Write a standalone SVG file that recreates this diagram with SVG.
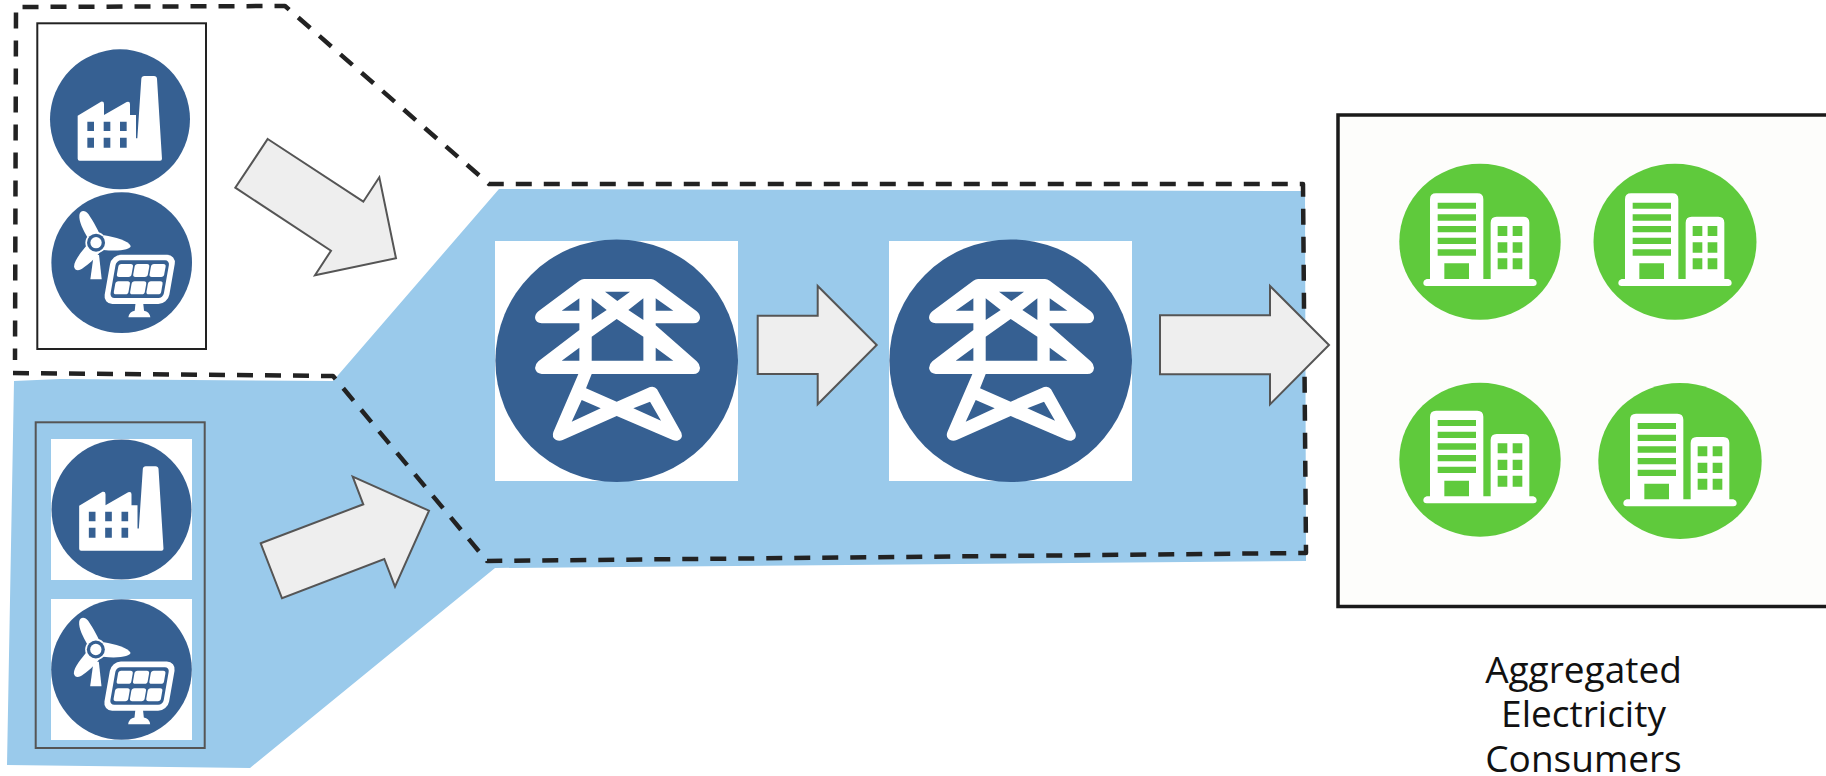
<svg xmlns="http://www.w3.org/2000/svg" xmlns:xlink="http://www.w3.org/1999/xlink" width="1826" height="776" viewBox="0 0 1826 776">
<style>
.arrow{fill:#eeeeee;stroke:#555555;stroke-width:2;stroke-linejoin:miter}
.w{fill:#ffffff}
.b{fill:#366092}
.g{fill:#5fca3c}
.label{font-family:"Open Sans",sans-serif;font-size:37px;fill:#111111;text-anchor:middle}
</style>
<defs>
<g id="factory" transform="scale(0.3333) translate(-360,-358)">
<circle class="b" cx="360" cy="358" r="210"/>
<path class="w" fill-rule="evenodd" d="M233,347 L303,305 Q312,303 312,312 L312,345 L380,306 Q390,303 390,312 L390,345 L408,345 L408,415 L412,415 L424,236 Q425,228 433,228 L462,228 Q470,228 471,236 L486,476 Q486,482 480,482 L239,482 Q233,482 233,476 Z M262,365 h20 v28 h-20 Z M311,365 h20 v28 h-20 Z M360,365 h20 v28 h-20 Z M262,413 h20 v30 h-20 Z M311,413 h20 v30 h-20 Z M360,413 h20 v30 h-20 Z"/>
</g>
<g id="renewable" transform="scale(0.3333) translate(-365,-788)">
<circle class="b" cx="365" cy="788" r="211"/>
<path class="w" d="M271,838 L305,838 L297,765 L281,765 Z"/>
<path class="w" d="M262,712 C250,690 236,665 238,645 C240,630 255,628 265,642 C280,665 298,695 305,718 Z"/>
<path class="w" d="M312,706 C345,712 385,722 392,738 C392,748 360,755 310,750 Z"/>
<path class="w" d="M265,730 C245,755 222,780 222,800 C225,815 240,812 250,803 C270,790 290,770 302,752 Z"/>
<circle class="w" cx="288" cy="728" r="32"/>
<circle class="b" cx="288" cy="728" r="27"/>
<circle class="w" cx="288" cy="728" r="17"/>
<path class="w" d="M407,905 L429,905 L432,932 Q448,934 451,952 L385,952 Q388,934 404,932 Z"/>
<g transform="translate(419,838) skewX(-10)">
<rect class="w" x="-97" y="-74" width="194" height="148" rx="28"/>
<rect class="b" x="-80" y="-57" width="160" height="113" rx="14"/>
<rect class="w" x="-71" y="-46" width="44" height="39" rx="8"/><rect class="w" x="-22" y="-46" width="44" height="39" rx="8"/><rect class="w" x="27" y="-46" width="44" height="39" rx="8"/>
<rect class="w" x="-71" y="6" width="44" height="39" rx="8"/><rect class="w" x="-22" y="6" width="44" height="39" rx="8"/><rect class="w" x="27" y="6" width="44" height="39" rx="8"/>
</g>
</g>
<g id="pylon" transform="scale(0.3333) translate(-410,-572)">
<circle class="b" cx="410" cy="572" r="364"/>
<path class="w" fill-rule="evenodd" d="M312,327 L513,327 Q520,327 527,332 L650,424 Q660,432 660,444 Q658,460 640,460 L527,460 L527,466 L650,574 Q660,583 660,594 Q658,612 640,612 L335,612 L318,655 L410,695 L510,651 Q524,647 531,658 L604,788 Q610,806 592,812 Q585,813 578,810 L410,738 L248,810 Q238,814 228,810 Q214,802 220,786 L295,612 L185,612 Q167,610 165,594 Q165,583 175,574 L298,480 L298,460 L185,460 Q167,458 165,444 Q165,432 175,424 L298,332 Q305,327 312,327 Z M375,365 L450,365 L412,393 Z M335,385 L380,420 L335,450 Z M490,385 L490,450 L445,420 Z M335,500 L410,447 L490,500 L490,572 L335,572 Z M245,422 L298,385 L298,422 Z M527,385 L580,422 L527,422 Z M245,572 L298,533 L298,572 Z M527,533 L580,572 L527,572 Z M305,690 L362,715 L275,755 Z M510,695 L543,752 L460,715 Z"/>
</g>
<g id="building" transform="scale(0.3333) translate(-450,-425)">
<path class="w" fill-rule="evenodd" d="M300,537 L300,298 Q300,280 318,280 L442,280 Q460,280 460,298 L460,537 L482,537 L482,368 Q482,350 500,350 L580,350 Q598,350 598,368 L598,537 L610,537 Q620,540 620,549 Q620,558 610,558 L290,558 Q280,558 280,549 Q280,540 290,537 Z M323,308 h115 v18 h-115 Z M323,343 h115 v19 h-115 Z M323,378 h115 v19 h-115 Z M323,413 h115 v19 h-115 Z M323,448 h115 v19 h-115 Z M343,490 h74 v47 h-74 Z M503,378 h29 v30 h-29 Z M548,378 h29 v30 h-29 Z M503,427 h29 v31 h-29 Z M548,427 h29 v31 h-29 Z M503,475 h29 v33 h-29 Z M548,475 h29 v33 h-29 Z"/>
</g>
</defs>
<rect width="1826" height="776" fill="#ffffff"/>
<polygon id="grid-region" fill="#9acaeb" points="14,381 60,379 333,381 499,189 1305,191 1306,561 495,568 250,768 7,765"/>
<g id="connectors">
<path id="boundary" d="M13,373 L333,376 L487,561 L1306,553 L1303,184 L489,184 L285,6 L16,7 L15,360" fill="none" stroke="#222222" stroke-width="4.500" stroke-linejoin="round" stroke-dasharray="16 12"/>
<polygon class="arrow" points="267.700,139 363.300,201.700 379.300,177.300 396,258.300 315,275.300 331,250.700 235.300,187.700"/>
<polygon class="arrow" points="260.700,543.300 363.300,504.300 352.700,476.700 429,510.700 395,586.700 384.300,559 282,598.300"/>
<polygon class="arrow" points="757.700,315.700 817.700,315.700 817.700,286 876.700,345 817.700,404.300 817.700,374 757.700,374"/>
<polygon class="arrow" points="1160,315.300 1270,315.300 1270,286 1329,345 1270,404.300 1270,374.300 1160,374.300"/>
</g>
<g id="generators-top">
<rect x="37.300" y="23.300" width="168.700" height="325.700" fill="#ffffff" stroke="#222222" stroke-width="2"/>
<use xlink:href="#factory" href="#factory" transform="translate(120,119.300)"/>
<use xlink:href="#renewable" href="#renewable" transform="translate(121.700,262.700)"/>
</g>
<g id="generators-bottom">
<rect x="35.700" y="422.300" width="169" height="325.700" fill="none" stroke="#555555" stroke-width="2"/>
<rect x="51" y="439" width="141" height="141" fill="#ffffff"/>
<rect x="51" y="599" width="141" height="141" fill="#ffffff"/>
<use xlink:href="#factory" href="#factory" transform="translate(121.500,509.500)"/>
<use xlink:href="#renewable" href="#renewable" transform="translate(121.500,669.500)"/>
</g>
<g id="substation-1">
<rect x="495" y="241" width="243" height="240" fill="#ffffff"/>
<use xlink:href="#pylon" href="#pylon" transform="translate(616.700,360.700)"/>
</g>
<g id="substation-2">
<rect x="889" y="241" width="243" height="240" fill="#ffffff"/>
<use xlink:href="#pylon" href="#pylon" transform="translate(1010.700,360.700)"/>
</g>
<g id="consumers">
<rect x="1338" y="115" width="500" height="491.500" fill="#fdfdfb" stroke="#1a1a1a" stroke-width="3.500"/>
<g id="consumer-1"><ellipse class="g" cx="1480" cy="241.700" rx="80.700" ry="78"/><use xlink:href="#building" href="#building" transform="translate(1480,241.700)"/></g>
<g id="consumer-2"><ellipse class="g" cx="1675" cy="241.700" rx="81.500" ry="78"/><use xlink:href="#building" href="#building" transform="translate(1675,241.700)"/></g>
<g id="consumer-3"><ellipse class="g" cx="1480" cy="459.700" rx="80.700" ry="77"/><use xlink:href="#building" href="#building" transform="translate(1480,459)"/></g>
<g id="consumer-4"><ellipse class="g" cx="1680" cy="461" rx="81.700" ry="78"/><use xlink:href="#building" href="#building" transform="translate(1680,462)"/></g>
</g>
<text id="consumers-label" class="label"><tspan x="1583.500" y="683">Aggregated</tspan><tspan x="1583.500" y="727">Electricity</tspan><tspan x="1583.500" y="772">Consumers</tspan></text>
</svg>
